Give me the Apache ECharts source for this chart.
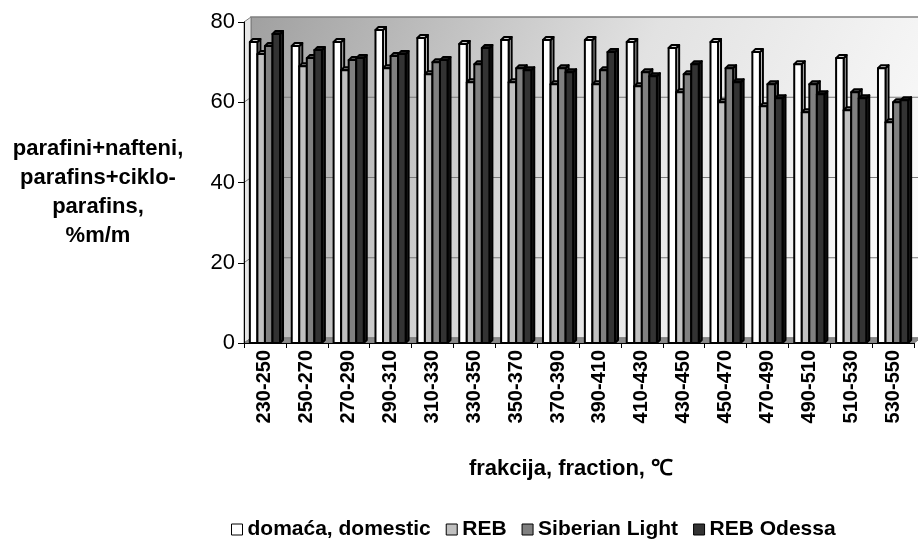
<!DOCTYPE html>
<html><head><meta charset="utf-8">
<script src="https://cdn.jsdelivr.net/npm/echarts@6/dist/echarts.min.js"></script>
<style>html,body{margin:0;padding:0;background:#fff}#c{width:918px;height:541px}</style>
</head><body><div id="c"></div>
<script>
const categories = ['230-250','250-270','270-290','290-310','310-330','330-350','350-370','370-390','390-410','410-430','430-450','450-470','470-490','490-510','510-530','530-550'];
const domestic = [75, 74, 75, 78, 76, 74.5, 75.5, 75.5, 75.5, 75, 73.5, 75, 72.5, 69.5, 71, 68.5];
const reb = [72, 69, 68, 68.5, 67, 65, 65, 64.5, 64.5, 64, 62.5, 60, 59, 57.5, 58, 55];
const siberian = [74, 71, 70.5, 71.5, 70, 69.5, 68.5, 68.5, 68, 67.5, 67, 68.5, 64.5, 64.5, 62.5, 60];
const odessa = [77, 73, 71, 72, 70.5, 73.5, 68, 67.5, 72.5, 66.5, 69.5, 65, 61, 62, 61, 60.5];
const seriesNames = ['domaća, domestic', 'REB', 'Siberian Light', 'REB Odessa'];
const seriesValues = [domestic, reb, siberian, odessa];
const yTicks = [0, 20, 40, 60, 80];

const FRONT = ['#ffffff', '#c0c0c0', '#808080', '#333333'];
const SIDE = ['#cfcfcf', '#989898', '#5c5c5c', '#1e1e1e'];
const TOP = ['#d0d0d0', '#8a8a8a', '#505050', '#1a1a1a'];
const DX = 3, DY = -3;
const FONT = 'Arial, "Liberation Sans", sans-serif';

function makeRender(k) {
  return function (params, api) {
    const idx = api.value(0), v = api.value(1);
    const p = api.coord([idx, v]);
    const p0 = api.coord([idx, 0]);
    const bw = api.size([1, 0])[0];
    const w = bw * 0.18;
    const x0 = p[0] - 2 * w + k * w;
    const x1 = x0 + w;
    const y = p[1], yb = p0[1];
    const st = {stroke: '#000', lineWidth: 2, lineJoin: 'round'};
    return {
      type: 'group',
      children: [
        {type: 'polygon', shape: {points: [[x1, y], [x1 + DX, y + DY], [x1 + DX, yb + DY], [x1, yb]]},
          style: Object.assign({fill: SIDE[k]}, st)},
        {type: 'polygon', shape: {points: [[x0, y], [x0 + DX, y + DY], [x1 + DX, y + DY], [x1, y]]},
          style: Object.assign({fill: TOP[k]}, st)},
        {type: 'rect', shape: {x: x0, y: y, width: w, height: yb - y},
          style: Object.assign({fill: FRONT[k]}, st)}
      ]
    };
  };
}

const chart = echarts.init(document.getElementById('c'), null, {renderer: 'canvas'});
const GL = 244, GT = 22, GR = 4, GB = 198;
const option = {
  animation: false,
  backgroundColor: '#ffffff',
  grid: {left: GL, top: GT, right: GR, bottom: GB, containLabel: false},
  xAxis: {
    type: 'category', data: categories,
    axisLine: {show: true, lineStyle: {color: '#000', width: 1}},
    axisTick: {show: true, length: 5, lineStyle: {color: '#000'}},
    axisLabel: {rotate: 90, fontWeight: 'bold', fontSize: 20, color: '#000', margin: 7, fontFamily: FONT},
    splitLine: {show: false}
  },
  yAxis: {
    type: 'value', min: 0, max: 80, interval: 20,
    axisLine: {show: true, lineStyle: {color: '#000', width: 1}},
    axisTick: {show: true, length: 6, lineStyle: {color: '#000'}},
    axisLabel: {fontSize: 22, color: '#000', margin: 9, fontFamily: FONT},
    splitLine: {show: false}
  },
  legend: {
    data: seriesNames, left: 226, top: 514,
    itemWidth: 11, itemHeight: 11, itemGap: 15, icon: 'rect',
    itemStyle: {borderColor: '#000', borderWidth: 1},
    textStyle: {fontSize: 21, fontWeight: 'bold', color: '#000', fontFamily: FONT}
  },
  series: seriesNames.map((name, k) => ({
    type: 'custom', name: name,
    renderItem: makeRender(k),
    color: FRONT[k],
    itemStyle: {color: FRONT[k], borderColor: '#000'},
    encode: {x: 0, y: 1},
    data: seriesValues[k].map((v, i) => [i, v]),
    z: 3
  }))
};
chart.setOption(option);

// 3D walls and back gridlines, positioned through the y axis scale
const ox = 7, oy = -5;
const yPix = v => chart.convertToPixel({yAxisIndex: 0}, v);
const xL = GL, xR = 918 - GR;
const yTopPx = yPix(80), yBotPx = yPix(0);
const gfx = [];
gfx.push({type: 'polygon', z: -10, shape: {points: [[xL + ox, yTopPx + oy], [xR + ox, yTopPx + oy], [xR + ox, yBotPx + oy], [xL + ox, yBotPx + oy]]},
  style: {fill: new echarts.graphic.LinearGradient(0, 0, 1, 1, [{offset: 0, color: '#a0a0a0'}, {offset: 0.5, color: '#e2e2e2'}, {offset: 1, color: '#ffffff'}]), stroke: '#808080', lineWidth: 1.5}});
gfx.push({type: 'polygon', z: -9, shape: {points: [[xL, yTopPx], [xL + ox, yTopPx + oy], [xL + ox, yBotPx + oy], [xL, yBotPx]]},
  style: {fill: '#e6e6e6', stroke: '#808080', lineWidth: 1}});
gfx.push({type: 'polygon', z: -9, shape: {points: [[xL, yBotPx], [xL + ox, yBotPx + oy], [xR + ox, yBotPx + oy], [xR, yBotPx]]},
  style: {fill: '#8a8a8a', stroke: '#808080', lineWidth: 1}});
yTicks.filter(v => v > 0 && v < 80).forEach(v => {
  const yy = yPix(v);
  gfx.push({type: 'polyline', z: -8, shape: {points: [[xL, yy], [xL + ox, yy + oy], [xR + ox, yy + oy]]},
    style: {stroke: '#7a7a7a', lineWidth: 1, fill: null}});
});
gfx.push({type: 'text', z: 10, x: 98, y: 192, style: {
  text: 'parafini+nafteni,\nparafins+ciklo-\nparafins,\n%m/m',
  font: 'bold 22px ' + FONT, fill: '#000', align: 'center', verticalAlign: 'middle', lineHeight: 29}});
gfx.push({type: 'text', z: 10, x: 571, y: 469, style: {
  text: 'frakcija, fraction, ℃', font: 'bold 22px ' + FONT, fill: '#000', align: 'center', verticalAlign: 'middle'}});
chart.setOption({graphic: {elements: gfx}});
</script>
</body></html>
